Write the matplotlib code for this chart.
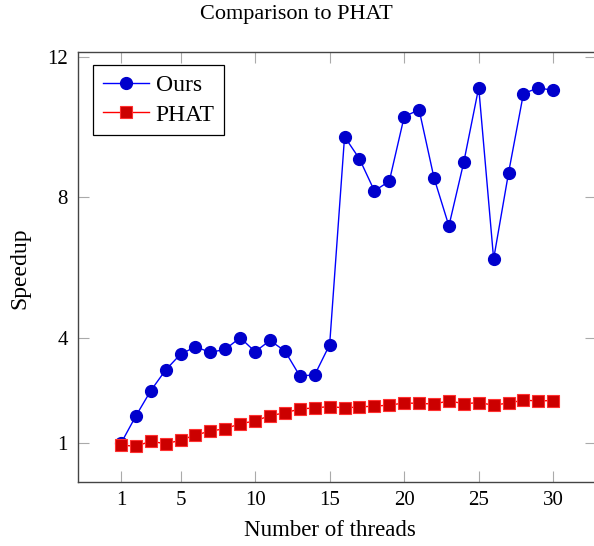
import matplotlib.pyplot as plt

plt.rcParams['font.family'] = ['Liberation Serif', 'DejaVu Serif']

# threads 1..30
threads = list(range(1, 31))
ours = [1.0, 1.78, 2.50, 3.09, 3.54, 3.75, 3.59, 3.68, 4.01, 3.61,
        3.93, 3.63, 2.92, 2.95, 3.81, 9.73, 9.10, 8.19, 8.46, 10.30,
        10.50, 8.56, 7.19, 9.01, 11.13, 6.25, 8.70, 10.96, 11.12, 11.05]
phat = [0.95, 0.92, 1.06, 0.99, 1.09, 1.24, 1.35, 1.42, 1.56, 1.64,
        1.79, 1.87, 1.98, 2.01, 2.05, 2.01, 2.04, 2.06, 2.09, 2.15,
        2.14, 2.12, 2.21, 2.13, 2.16, 2.09, 2.15, 2.23, 2.21, 2.22]
xticks = [1, 5, 10, 15, 20, 25, 30]
yticks = [1, 4, 8, 12]

W, H = 594, 546
fig = plt.figure(figsize=(W / 100, H / 100), dpi=100)
# axes box in pixels (right edge falls just outside the image, as in the original)
left, right, top, bottom = 77.7, 596.5, 51.7, 481.7
ax = fig.add_axes([left / W, 1 - bottom / H, (right - left) / W, (bottom - top) / H])

ax.plot(threads, ours, color='#0000ff', lw=1.0, marker='o', markersize=8.5,
        markerfacecolor='#0000cc', markeredgecolor='#0000cc', label='Ours')
ax.plot(threads, phat, color='#ff0000', lw=1.0, marker='s', markersize=8,
        markerfacecolor='#cc0000', markeredgecolor='#ff3030', markeredgewidth=0.8,
        label='PHAT')

ax.set_xlim(-1.9, 32.9)
ax.set_ylim(-0.09, 12.15)
ax.set_xticks(xticks)
ax.set_yticks(yticks)
ax.tick_params(direction='in', length=8, width=0.8, color='#aaaaaa',
               top=True, right=True, labelsize=15, pad=7)
for s in ax.spines.values():
    s.set_color('#444444')
    s.set_linewidth(1.0)
ax.spines['right'].set_visible(False)

leg = ax.legend(loc='upper left', bbox_to_anchor=(0.030, 0.969), borderaxespad=0,
                fontsize=17, fancybox=False, framealpha=1, edgecolor='black',
                handlelength=1.95, handletextpad=0.3, borderpad=0.4, labelspacing=0.34)
leg.get_frame().set_linewidth(0.9)

fig.text(296 / W, 1 - 14 / H, 'Comparison to PHAT', ha='center', va='center', fontsize=16)
fig.text(330 / W, 1 - 530 / H, 'Number of threads', ha='center', va='center', fontsize=16.5)
fig.text(20 / W, 1 - 268 / H, 'Speedup', ha='center', va='center', rotation=90, fontsize=17)

fig.savefig('out.png', dpi=100)
